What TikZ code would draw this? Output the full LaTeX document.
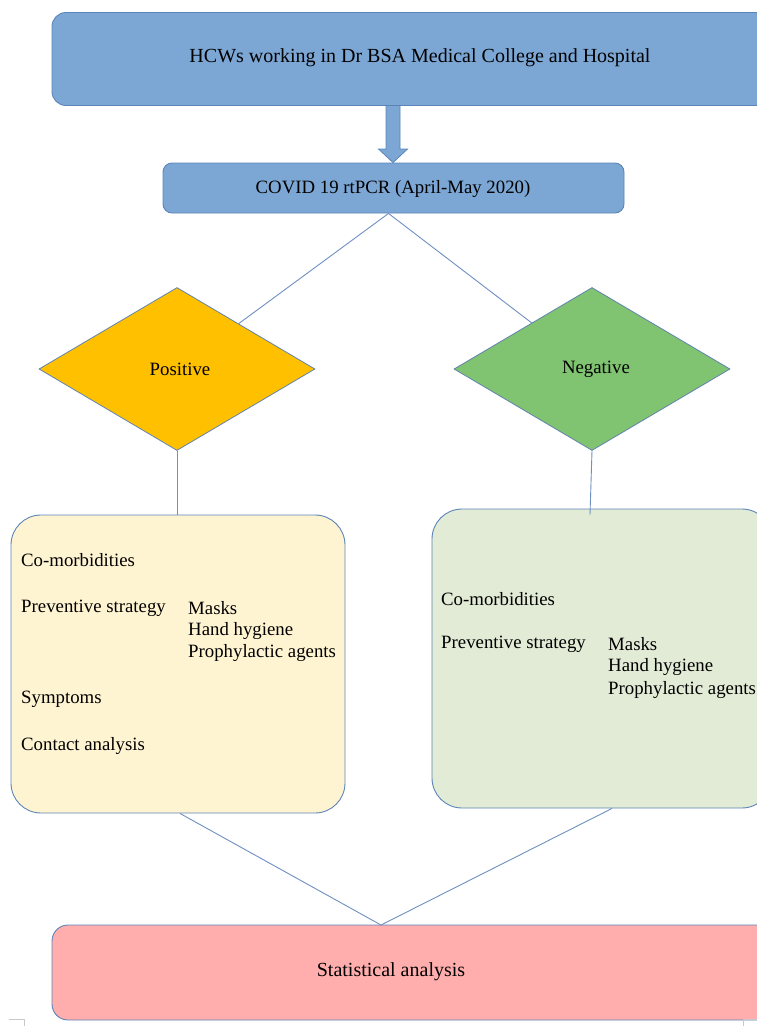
\documentclass[tikz,border=0pt]{standalone}
\usepackage{fontspec}
\setmainfont{Liberation Serif}
\newfontfamily\timesfont{Liberation Serif}
\usetikzlibrary{shapes.geometric,calc}
\definecolor{topblue}{HTML}{7CA7D5}
\definecolor{blueedge}{HTML}{5B84B8}
\definecolor{lineblue}{HTML}{6E8FC0}
\definecolor{posyellow}{HTML}{FFC000}
\definecolor{neggreen}{HTML}{80C371}
\definecolor{posbg}{HTML}{FFF4D2}
\definecolor{negbg}{HTML}{E2EBD5}
\definecolor{statpink}{HTML}{FFADAD}
\definecolor{markgrey}{HTML}{C8C8C8}
\tikzset{
  txt/.style={font=\timesfont\fontsize{18.8}{22.5}\selectfont, inner sep=0pt, text=black, yshift=-2pt},
  bigtxt/.style={font=\timesfont\fontsize{20}{24}\selectfont, inner sep=0pt, text=black, yshift=-2.5pt},
  listtxt/.style={txt, anchor=west, align=left},
  bluebox/.style={draw=blueedge, fill=topblue, line width=0.9pt, inner sep=0pt},
  decision/.style={diamond, draw=blueedge!80!gray, line width=0.8pt, inner sep=0pt,
    minimum width=276pt, minimum height=163pt},
  infobox/.style={draw=blueedge, line width=0.9pt, rounded corners=30pt, inner sep=0pt},
  conn/.style={draw=lineblue, line width=0.9pt},
}
\begin{document}
\begin{tikzpicture}[x=1pt,y=-1pt]
\useasboundingbox (0,0) rectangle (757,1026);
\clip (0,0) rectangle (757,1026);
% top box
\node[bluebox, rounded corners=14pt, minimum width=740pt, minimum height=93pt] (hcw) at (422,59) {};
\node[bigtxt] (hcwt) at (420,55) {HCWs working in Dr BSA Medical College and Hospital};
% covid box
\node[bluebox, rounded corners=9pt, minimum width=461pt, minimum height=50pt] (covid) at (393.5,188) {};
\node[txt] (covidt) at (393,187) {COVID 19 rtPCR (April-May 2020)};
% block arrow from top box to covid box
\coordinate (atop) at (393,105.5);
\coordinate (atip) at (covid.north -| atop);
\draw[draw=blueedge, fill=topblue, line width=0.8pt, line join=miter]
  ($(atop)+(-7,0)$) -- ($(atop)+(7,0)$) -- ($(atop)+(7,43.5)$) -- ($(atop)+(14.5,43.5)$)
  -- (atip) -- ($(atop)+(-14.5,43.5)$) -- ($(atop)+(-7,43.5)$) -- cycle;
% diamonds
\node[decision, fill=posyellow] (pos) at (177,369) {};
\node[txt] at (180,367) {Positive};
\node[decision, fill=neggreen] (neg) at (592,369) {};
\node[txt] at (596,367) {Negative};
% info boxes
\node[infobox, fill=posbg, minimum width=334pt, minimum height=298pt] (posbox) at (178,664) {};
\node[infobox, fill=negbg, minimum width=340pt, minimum height=299pt] (negbox) at (602,658.5) {};
% left box text
\node[listtxt] (p1) at (21,558) {Co-morbidities};
\node[listtxt] (p2) at (21,606) {Preventive strategy};
\node[listtxt] (p3) at (188,606) {Masks};
\node[listtxt] (p4) at (188,628.5) {Hand hygiene};
\node[listtxt] (p5) at (188,651) {Prophylactic agents};
\node[listtxt] (p6) at (21,697) {Symptoms};
\node[listtxt] (p7) at (21,744) {Contact analysis};
% right box text
\node[listtxt] (n1) at (441,597) {Co-morbidities};
\node[listtxt] (n2) at (441,642) {Preventive strategy};
\node[listtxt] (n3) at (608,642) {Masks};
\node[listtxt] (n4) at (608,665) {Hand hygiene};
\node[listtxt] (n5) at (608,688) {Prophylactic agents};
% statistical box
\node[draw=blueedge, fill=statpink, line width=0.9pt, rounded corners=16pt, inner sep=0pt,
  minimum width=740pt, minimum height=95pt] (stat) at (422,972.5) {};
\node[bigtxt] (statt) at (391,969) {Statistical analysis};
% connectors
\coordinate (split) at ($(covid.south)+(-5,0)$);
\draw[conn] (split) -- (pos);
\draw[conn] (split) -- (neg);
\draw[conn] (pos.south) -- (pos.south |- posbox.north);
\coordinate (negend) at ($(neg.south |- negbox.north)+(-2,6)$);
\draw[conn] (neg.south) -- (negend);
\coordinate (meet) at (381,925);
\coordinate (pbot) at ($(posbox.south)+(2,0)$);
\coordinate (nbot) at ($(negbox.south)+(10,0)$);
\draw[conn] (pbot) -- (meet);
\draw[conn] (nbot) -- (meet);
% page corner marks
\draw[markgrey, line width=0.8pt] (9,1019) -- (24,1019) -- (24,1026);
\draw[markgrey, line width=0.8pt] (743,1026) -- (743,1019) -- (757,1019);
\end{tikzpicture}
\end{document}
